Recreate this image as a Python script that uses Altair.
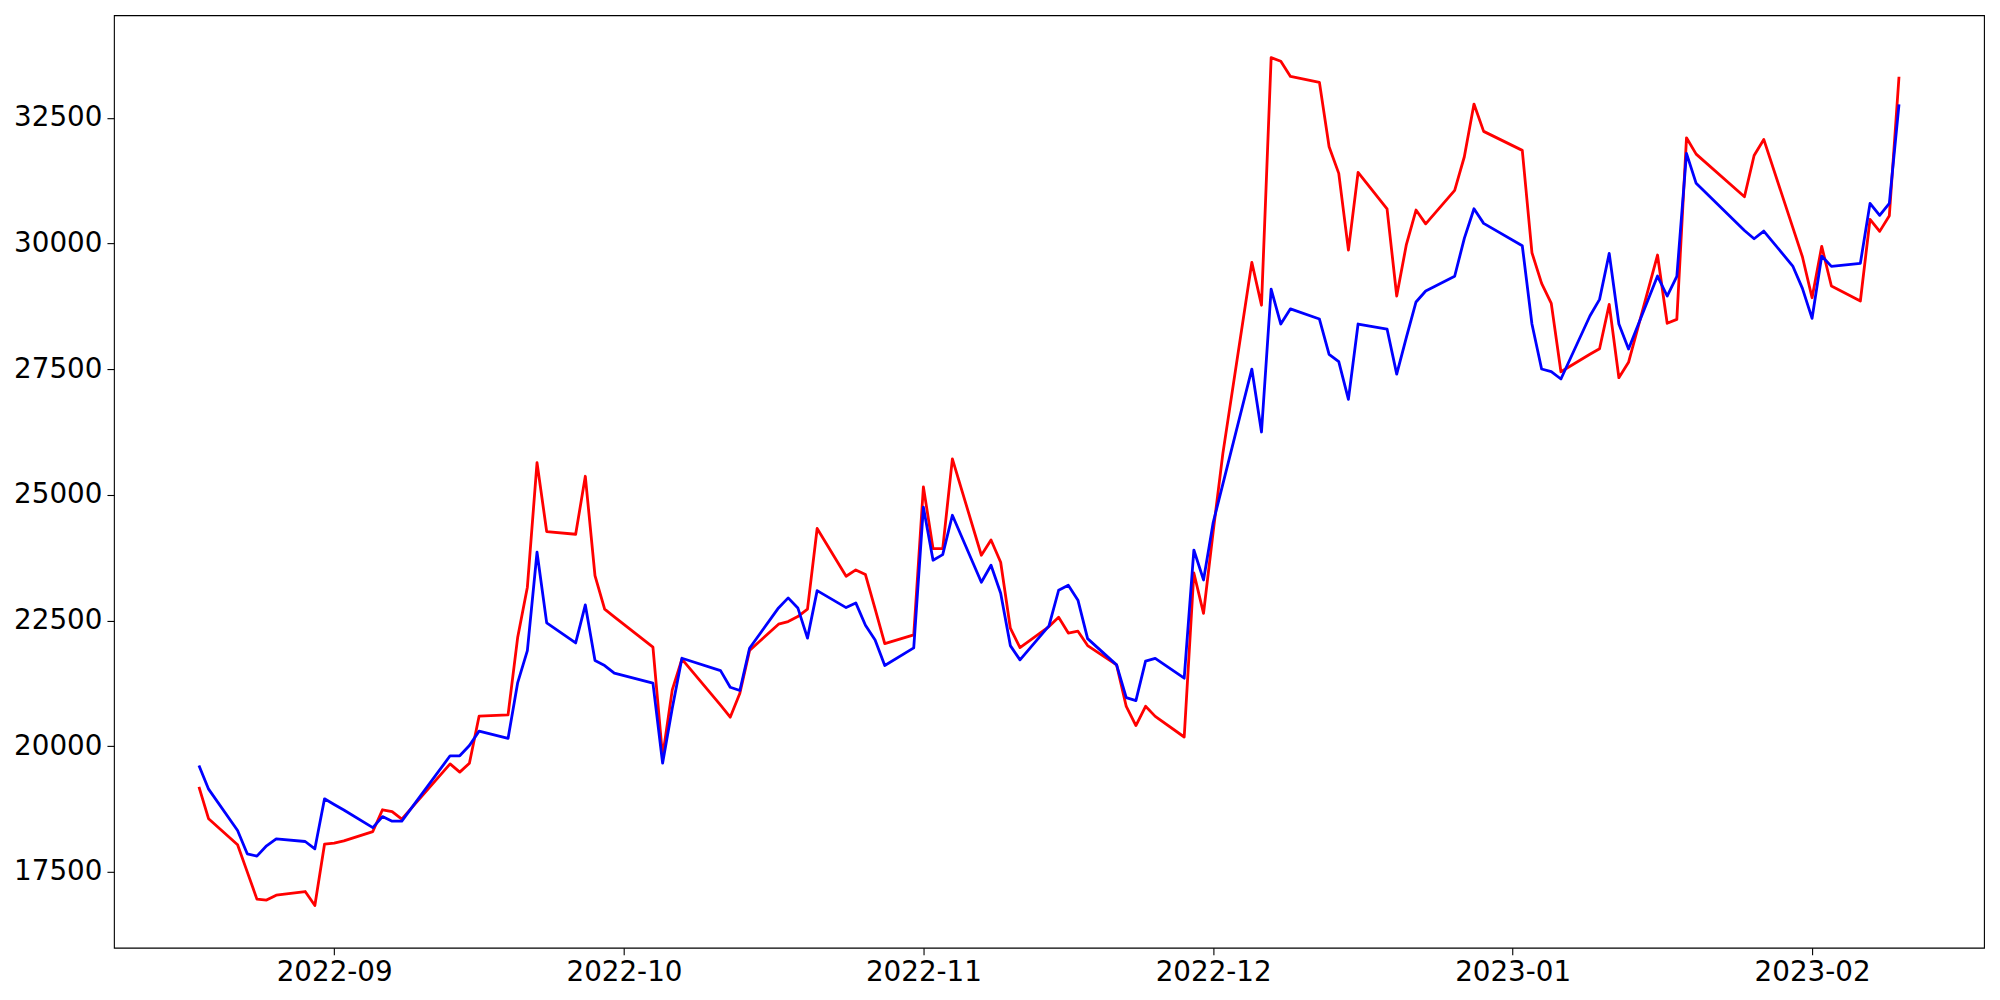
import altair as alt
import pandas as pd

dates = [
    "2022-08-18", "2022-08-19", "2022-08-22", "2022-08-23", "2022-08-24", "2022-08-25", "2022-08-26",
    "2022-08-29", "2022-08-30", "2022-08-31", "2022-09-01", "2022-09-02", "2022-09-05", "2022-09-06",
    "2022-09-07", "2022-09-08", "2022-09-13", "2022-09-14", "2022-09-15", "2022-09-16", "2022-09-19",
    "2022-09-20", "2022-09-21", "2022-09-22", "2022-09-23", "2022-09-26", "2022-09-27", "2022-09-28",
    "2022-09-29", "2022-09-30", "2022-10-04", "2022-10-05", "2022-10-06", "2022-10-07", "2022-10-11",
    "2022-10-12", "2022-10-13", "2022-10-14", "2022-10-17", "2022-10-18", "2022-10-19", "2022-10-20",
    "2022-10-21", "2022-10-24", "2022-10-25", "2022-10-26", "2022-10-27", "2022-10-28", "2022-10-31",
    "2022-11-01", "2022-11-02", "2022-11-03", "2022-11-04", "2022-11-07", "2022-11-08", "2022-11-09",
    "2022-11-10", "2022-11-11", "2022-11-14", "2022-11-15", "2022-11-16", "2022-11-17", "2022-11-18",
    "2022-11-21", "2022-11-22", "2022-11-23", "2022-11-24", "2022-11-25", "2022-11-28", "2022-11-29",
    "2022-11-30", "2022-12-01", "2022-12-02", "2022-12-05", "2022-12-06", "2022-12-07", "2022-12-08",
    "2022-12-09", "2022-12-12", "2022-12-13", "2022-12-14", "2022-12-15", "2022-12-16", "2022-12-19",
    "2022-12-20", "2022-12-21", "2022-12-22", "2022-12-23", "2022-12-26", "2022-12-27", "2022-12-28",
    "2022-12-29", "2023-01-02", "2023-01-03", "2023-01-04", "2023-01-05", "2023-01-06", "2023-01-09",
    "2023-01-10", "2023-01-11", "2023-01-12", "2023-01-13", "2023-01-16", "2023-01-17", "2023-01-18",
    "2023-01-19", "2023-01-20", "2023-01-25", "2023-01-26", "2023-01-27", "2023-01-30", "2023-01-31",
    "2023-02-01", "2023-02-02", "2023-02-03", "2023-02-06", "2023-02-07", "2023-02-08", "2023-02-09",
    "2023-02-10",
]

red_values = [
    19192, 18555, 18038, 17500, 16958, 16938, 17037,
    17109, 16831, 18051, 18071, 18117, 18302, 18735,
    18700, 18549, 19648, 19484, 19662, 20597, 20623,
    22168, 23162, 25640, 24268, 24216, 25369, 23393,
    22725, 22572, 21969, 19794, 21120, 21730, 20816,
    20577, 21054, 21902, 22427, 22478, 22578, 22727,
    24330, 23381, 23506, 23413, 22730, 22041, 22214,
    25157, 23930, 23930, 25715, 23798, 24102, 23659,
    22347, 21961, 22379, 22566, 22251, 22287, 22001,
    21617, 20790, 20410, 20794, 20593, 20183, 23446,
    22641, 24268, 25820, 29623, 28772, 33697, 33625,
    33323, 33204, 31925, 31394, 29869, 31412, 30690,
    28955, 29979, 30665, 30390, 31056, 31725, 32773,
    32230, 31852, 29816, 29207, 28809, 27449, 27795,
    27907, 28789, 27330, 27636, 29770, 28412, 28491,
    32102, 31778, 30929, 31751, 32070, 30320, 29736,
    28921, 29943, 29154, 28855, 30480, 30241, 30553,
    33316,
]

blue_values = [
    19616, 19145, 18322, 17859, 17813, 18018, 18157,
    18104, 17958, 18953, 18840, 18730, 18380, 18600,
    18508, 18508, 19809, 19809, 20013, 20300, 20155,
    21266, 21901, 23858, 22452, 22054, 22810, 21703,
    21604, 21452, 21253, 19662, 20756, 21750, 21504,
    21173, 21107, 21949, 22750, 22950, 22750, 22150,
    23095, 22757, 22850, 22406, 22114, 21604, 21955,
    24753, 23699, 23810, 24594, 23262, 23600, 23043,
    22001, 21717, 22393, 23102, 23202, 22904, 22140,
    21617, 20965, 20907, 21691, 21745, 21353, 23902,
    23307, 24450, 25212, 27502, 26250, 29092, 28398,
    28700, 28497, 27795, 27648, 26898, 28398, 28298,
    27401, 28134, 28836, 29055, 29348, 30102, 30691,
    30400, 29955, 28398, 27503, 27449, 27304, 28557,
    28888, 29803, 28398, 27901, 29352, 28955, 29346,
    31792, 31196, 30257, 30094, 30247, 29551, 29107,
    28511, 29750, 29545, 29605, 30798, 30559, 30798,
    32766,
]

y_ticks = [17500, 20000, 22500, 25000, 27500, 30000, 32500]
x_ticks = [(2022, 9), (2022, 10), (2022, 11), (2022, 12), (2023, 1), (2023, 2)]

df = pd.DataFrame({"date": dates, "red": red_values, "blue": blue_values})

x_scale = alt.Scale(
    type="utc",
    domain=[
        alt.DateTime(year=2022, month=8, date=9, hours=4, minutes=48, utc=True),
        alt.DateTime(year=2023, month=2, date=18, hours=19, minutes=12, utc=True),
    ],
)
y_scale = alt.Scale(domain=[15990, 34540], nice=False, zero=False)

x_axis = alt.Axis(
    title=None,
    format="%Y-%m",
    values=[alt.DateTime(year=y, month=m, date=1, utc=True) for y, m in x_ticks],
    labelPadding=4,
)
y_axis = alt.Axis(title=None, values=y_ticks, format="d", labelPadding=5)

base = alt.Chart(df)

red_line = base.mark_line(color="#ff0000", strokeWidth=2.8, strokeJoin="round").encode(
    x=alt.X("date:T", scale=x_scale, axis=x_axis),
    y=alt.Y("red:Q", scale=y_scale, axis=y_axis),
)
blue_line = base.mark_line(color="#0000ff", strokeWidth=2.8, strokeJoin="round").encode(
    x=alt.X("date:T", scale=x_scale, axis=x_axis),
    y=alt.Y("blue:Q", scale=y_scale, axis=y_axis),
)

chart = (
    alt.layer(red_line, blue_line)
    .properties(
        width=1871,
        height=933,
        autosize=alt.AutoSizeParams(type="none"),
        padding={"left": 106, "top": 7, "right": 8, "bottom": 40},
        background="white",
    )
    .configure_view(stroke="black", strokeWidth=1.1)
    .configure_axis(
        grid=False,
        domain=False,
        labelFont="DejaVu Sans",
        labelFontSize=27.8,
        labelColor="black",
        tickColor="black",
        tickSize=7,
        tickWidth=1.1,
    )
)

chart.save("out.html", embed_options={"renderer": "svg", "actions": False})
